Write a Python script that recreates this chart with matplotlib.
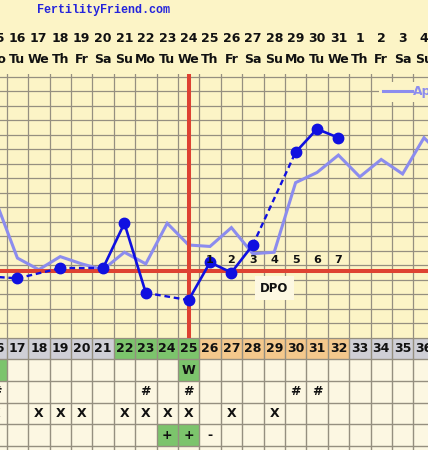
import matplotlib.pyplot as plt
import numpy as np

bg = '#fcf4c6'
cell_bg = '#fcf7e2'
grid_c = '#958f80'
blue = '#1010e0'
light = '#8c8cee'
red = '#de4232'
green = '#7cc46c'
orange = '#f4c88c'
gray = '#cfcfd6'

# columns = cycle days
cycle_days = list(range(16, 37))
dates = [15, 16, 17, 18, 19, 20, 21, 22, 23, 24, 25, 26, 27, 28, 29, 30, 31,
         1, 2, 3, 4]
weekdays = ['Mo', 'Tu', 'We', 'Th', 'Fr', 'Sa', 'Su'] * 3

# BBT readings (cycle day, deg F), missing days left out
temp_days = [15, 17, 19, 21, 22, 23, 25, 26, 27, 28, 30, 31, 32]
temps = [97.23, 97.21, 97.28, 97.28, 97.59, 97.11, 97.06, 97.32, 97.25, 97.44,
         98.08, 98.24, 98.18]

# overlay cycle
overlay_days = list(range(16, 38))
overlay = [97.74, 97.35, 97.27, 97.36, 97.31, 97.27, 97.39, 97.31, 97.59, 97.44,
           97.43, 97.56, 97.38, 97.39, 97.87, 97.94, 98.06, 97.91, 98.03, 97.93,
           98.18, 98.03]
overlay_label = 'April'

coverline = 97.26
ovulation_day = 25
dpo_days = [26, 27, 28, 29, 30, 31, 32]

# table below chart
header_colors = [gray] * 6 + [green] * 4 + [orange] * 7 + [gray] * 4
row1_green = [16, 25]
row1_text = {25: 'W'}
row2_text = {16: '#', 23: '#', 25: '#', 30: '#', 31: '#'}
row3_text = {d: 'X' for d in [16, 18, 19, 20, 22, 23, 24, 25, 27, 29]}
row4_green = [24, 25]
row4_text = {24: '+', 25: '+', 26: '-'}

W, H = 428, 450
fsz = 9
fig = plt.figure(figsize=(W / 100, H / 100), dpi=100, facecolor=bg)
xl = (17 - 17.4 / 21.4, 17 - 17.4 / 21.4 + 20)
yl = (96.8, 96.8 + 263.8 / 145)

def px_axes(top, bottom):
    return fig.add_axes([0, 1 - bottom / H, 1, (bottom - top) / H])

# ---- header ----
axh = px_axes(0, 74)
axh.set_xlim(xl)
axh.set_ylim(74, 0)
axh.axis('off')
fig.text(103 / W, 1 - 9.5 / H, 'FertilityFriend.com', family='Liberation Mono',
         weight='bold', color='#2424dc', fontsize=8.5, ha='center', va='center')
for d, lab, wd in zip(cycle_days, dates, weekdays):
    axh.text(d, 38, str(lab), ha='center', va='center', fontsize=fsz,
             weight='bold', color='#111111')
    axh.text(d, 59.5, wd, ha='center', va='center', fontsize=fsz,
             weight='bold', color='#111111')

# ---- chart ----
ax = px_axes(74, 337.8)
ax.set_facecolor(bg)
ax.set_xticks(np.arange(15.5, 37.5, 1))
ax.set_yticks(np.arange(96.8, 98.65, 0.1))
ax.set_xlim(xl)
ax.set_ylim(yl)
ax.grid(True, color=grid_c, lw=0.9)
ax.tick_params(length=0, labelbottom=False, labelleft=False)
for s in ax.spines.values():
    s.set_visible(False)

ln, = ax.plot(overlay_days, overlay, color=light, lw=2.2, zorder=3,
              solid_joinstyle='miter')
ax.axhline(coverline, color=red, lw=2.9, zorder=4)
ax.axvline(ovulation_day, color=red, lw=2.9, zorder=4)

for i in range(len(temp_days) - 1):
    xs = temp_days[i:i + 2]
    ys = temps[i:i + 2]
    if xs[1] - xs[0] == 1:
        ax.plot(xs, ys, color=blue, lw=1.9, zorder=5)
    else:
        ax.plot(xs, ys, color=blue, lw=1.7, ls=(0, (2.4, 1.6)), zorder=5)
ax.plot(temp_days, temps, 'o', color=blue, ms=7.5, zorder=6)

for i, d in enumerate(dpo_days):
    ax.text(d, 97.335, str(i + 1), ha='center', va='center', fontsize=8,
            weight='bold', color='#111111', zorder=7)
ax.text(29, 97.143, 'DPO', ha='center', va='center', fontsize=8.5,
        weight='bold', color='#111111', zorder=7,
        bbox=dict(boxstyle='square,pad=0.45', fc='#fdf8e2', ec='none'))

leg = ax.legend([ln], [overlay_label], loc='center left',
                bbox_to_anchor=(379 / W, (337.8 - 92) / 263.8),
                borderaxespad=0, borderpad=0.3, handlelength=2.3,
                handletextpad=0.15, frameon=True, fancybox=False,
                prop={'weight': 'bold', 'size': 9})
leg.get_frame().set_facecolor(bg)
leg.get_frame().set_edgecolor('none')
leg.get_frame().set_alpha(1)
for t in leg.get_texts():
    t.set_color(light)
leg.set_zorder(8)
ax.set_xlim(xl)
ax.set_ylim(yl)

# ---- table ----
axt = px_axes(337.8, 450)
rows = [337.8, 359.3, 381, 402.6, 424.2, 446]
axt.bar(cycle_days, rows[1] - rows[0], bottom=rows[0], width=1,
        color=header_colors, lw=0)
axt.bar(cycle_days, 450 - rows[1], bottom=rows[1], width=1, color=cell_bg, lw=0)
axt.bar(row1_green, rows[2] - rows[1], bottom=rows[1], width=1, color=green, lw=0)
axt.bar(row4_green, rows[5] - rows[4], bottom=rows[4], width=1, color=green, lw=0)
for y in rows:
    axt.axhline(y, color=grid_c, lw=1.0)
for x in np.arange(15.5, 37.5, 1):
    axt.axvline(x, color=grid_c, lw=1.0)
for d in cycle_days:
    axt.text(d, (rows[0] + rows[1]) / 2, str(d), ha='center', va='center',
             fontsize=fsz, weight='bold', color='#111111')
for k, marks in enumerate([row1_text, row2_text, row3_text, row4_text]):
    yc = (rows[k + 1] + rows[k + 2]) / 2
    for d, m in marks.items():
        axt.text(d, yc, m, ha='center', va='center', fontsize=fsz,
                 weight='bold', color='#111111')
axt.set_xlim(xl)
axt.set_ylim(450, 337.8)
axt.axis('off')

fig.savefig('out.png', dpi=100, facecolor=bg)
